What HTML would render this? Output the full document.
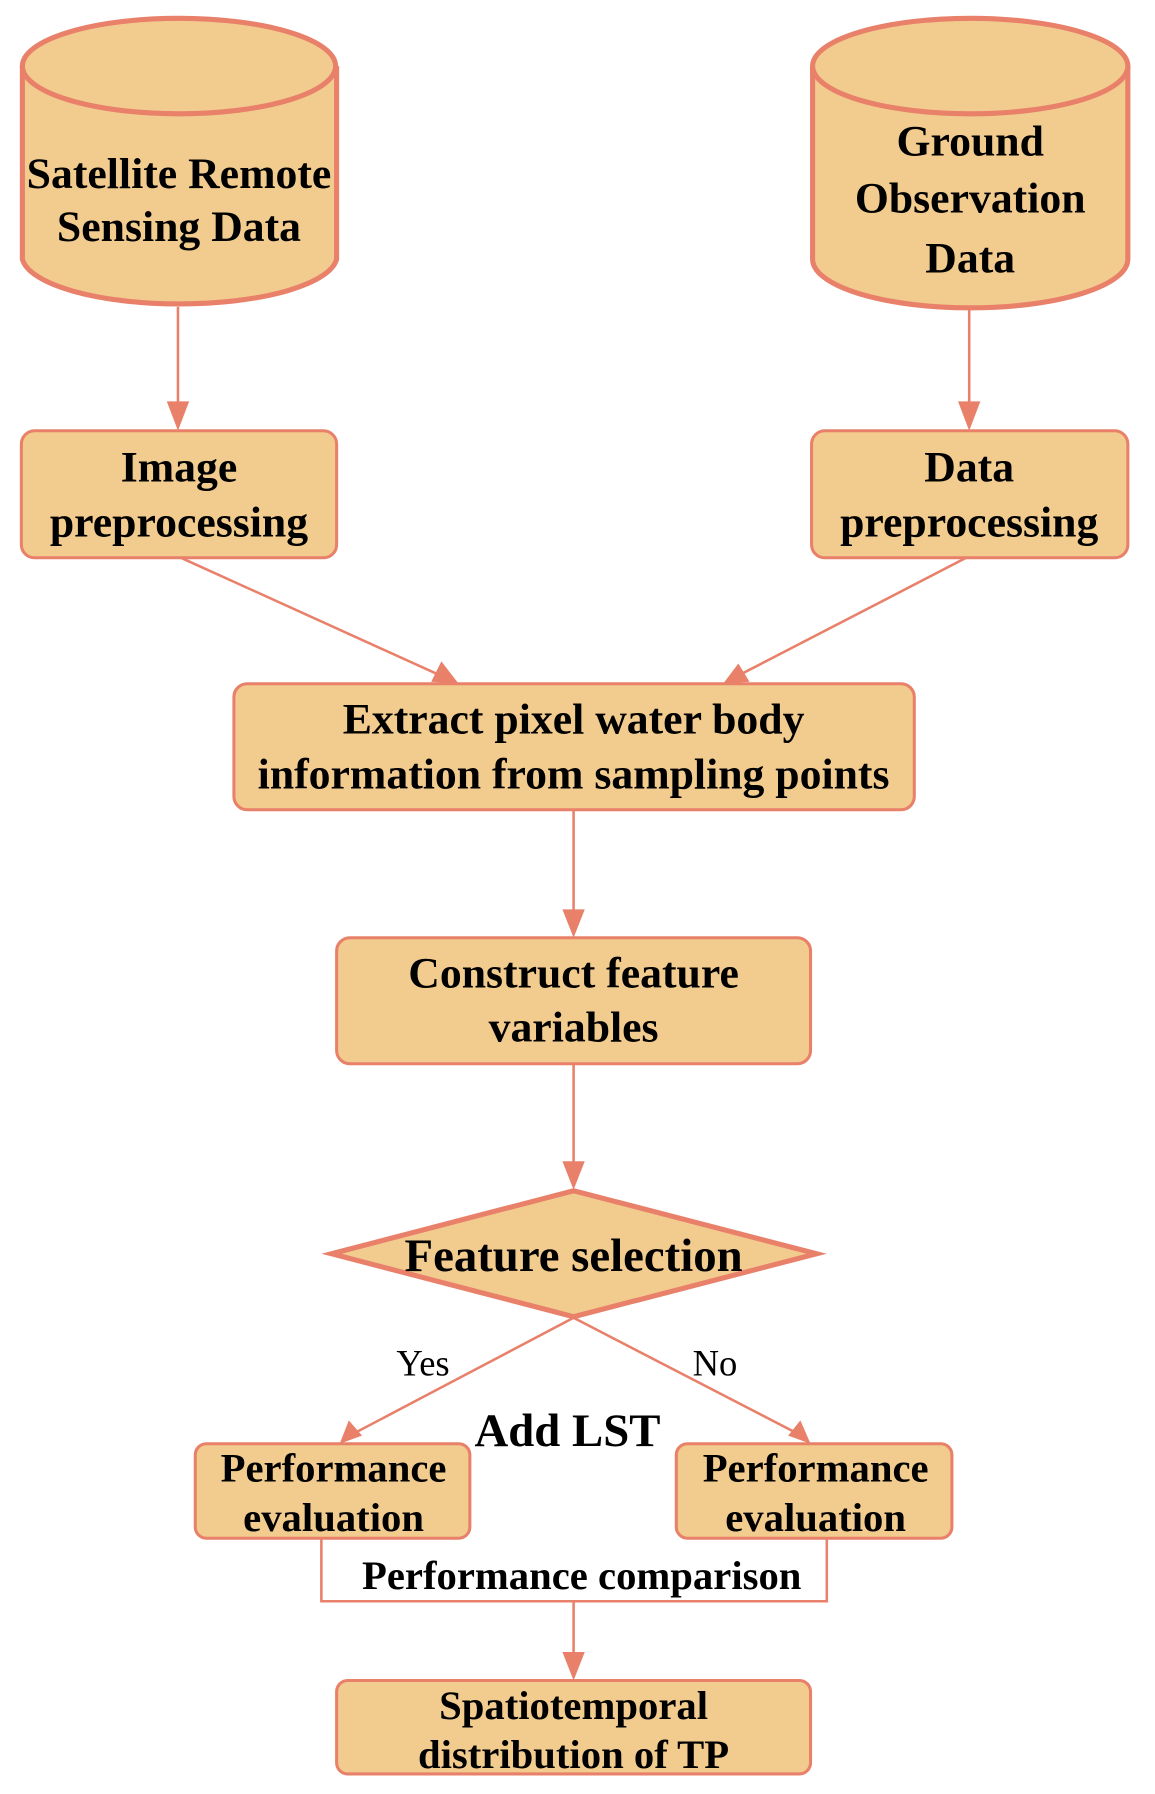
<!DOCTYPE html>
<html><head><meta charset="utf-8"><style>html,body{margin:0;padding:0;background:#fff}svg{display:block}</style></head>
<body>
<svg width="1155" height="1794" viewBox="0 0 1155 1794" xmlns="http://www.w3.org/2000/svg" font-family="Liberation Serif, serif">
<g transform="scale(1.017,1.016)">
<g fill="#F2CB8E" stroke="#E8806A">
<path d="M22 65 L22 255 A155 48 0 0 0 331 255 L331 65" stroke-width="5"/>
<ellipse cx="176" cy="65" rx="154" ry="47" stroke-width="5"/>
<path d="M799 65 L799 255 A155 48 0 0 0 1109 255 L1109 65" stroke-width="5"/>
<ellipse cx="954" cy="65" rx="155" ry="47" stroke-width="5"/>
<rect x="21" y="424" width="310" height="125" rx="13" stroke-width="3"/>
<rect x="798" y="424" width="311" height="125" rx="13" stroke-width="3"/>
<rect x="230" y="673" width="669" height="124" rx="13" stroke-width="3"/>
<rect x="331" y="923" width="466" height="124" rx="13" stroke-width="3"/>
<polygon points="326,1234 564,1172 803,1234 564,1296" stroke-width="5"/>
<rect x="192" y="1421" width="270" height="93" rx="11" stroke-width="3"/>
<rect x="665" y="1421" width="271" height="93" rx="11" stroke-width="3"/>
<rect x="331" y="1654" width="466" height="92" rx="11" stroke-width="3"/>
</g>
<g stroke="#E8806A" stroke-width="2.5" fill="none">
<line x1="175" y1="302" x2="175" y2="410"/>
<line x1="953" y1="302" x2="953" y2="410"/>
<line x1="178" y1="549" x2="440" y2="668"/>
<line x1="950" y1="549" x2="720" y2="668"/>
<line x1="564" y1="797" x2="564" y2="910"/>
<line x1="564" y1="1047" x2="564" y2="1158"/>
<line x1="564" y1="1297" x2="342" y2="1414"/>
<line x1="564" y1="1297" x2="790" y2="1414"/>
<polyline points="316,1514 316,1576 813,1576 813,1514"/>
<line x1="564" y1="1576" x2="564" y2="1640"/>
</g>
<g fill="#E8806A">
<polygon points="164,395 186,395 175,424"/>
<polygon points="942,395 964,395 953,424"/>
<polygon points="553,895 575,895 564,923"/>
<polygon points="553,1143 575,1143 564,1171"/>
<polygon points="553,1626 575,1626 564,1654"/>
<polygon points="451,673 424,671 434,651"/>
<polygon points="711,673 726,653 737,671"/>
<polygon points="334,1421 343,1398 356,1413"/>
<polygon points="797,1421 775,1413 787,1398"/>
</g>
<g font-weight="bold" font-size="43" fill="#000" text-anchor="middle">
<text x="176" y="185">Satellite Remote</text>
<text x="176" y="237">Sensing Data</text>
<text x="954" y="153">Ground</text>
<text x="954" y="209">Observation</text>
<text x="954" y="268">Data</text>
<text x="176" y="474">Image</text>
<text x="176" y="528">preprocessing</text>
<text x="953" y="474">Data</text>
<text x="953" y="528">preprocessing</text>
<text x="564" y="722">Extract pixel water body</text>
<text x="564" y="776">information from sampling points</text>
<text x="564" y="972">Construct feature</text>
<text x="564" y="1025">variables</text>
<text x="564" y="1251" font-size="46">Feature selection</text>
<text x="558" y="1423" font-size="46">Add LST</text>
<text x="328" y="1458" font-size="40">Performance</text>
<text x="328" y="1507" font-size="40">evaluation</text>
<text x="802" y="1458" font-size="40">Performance</text>
<text x="802" y="1507" font-size="40">evaluation</text>
<text x="572" y="1564" font-size="40">Performance comparison</text>
<text x="564" y="1692" font-size="40">Spatiotemporal</text>
<text x="564" y="1740" font-size="40">distribution of TP</text>
</g>
<g font-size="36" fill="#000" text-anchor="middle">
<text x="416" y="1354">Yes</text>
<text x="703" y="1354">No</text>
</g>
</g>
</svg>
</body></html>
